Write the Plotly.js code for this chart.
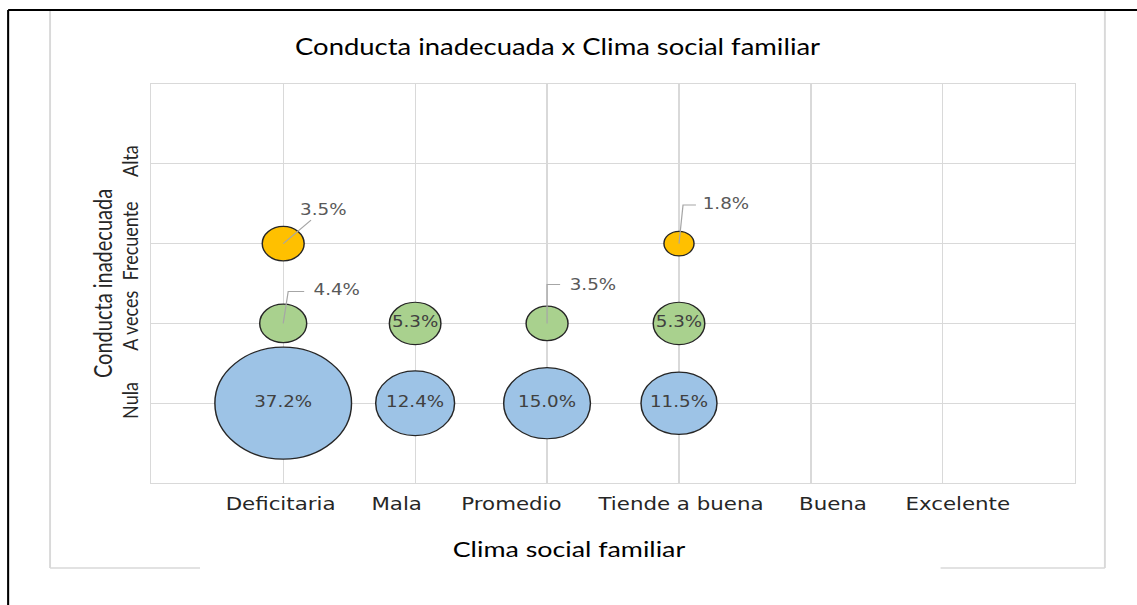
<!DOCTYPE html>
<html>
<head>
<meta charset="utf-8">
<script src="https://cdn.plot.ly/plotly-3.0.1.min.js"></script>
<style>
  html, body { margin: 0; padding: 0; background: #ffffff; overflow: hidden; }
  #wrap { width: 932px; height: 605px; transform-origin: 0 0; }
  #chart { width: 932px; height: 605px; }
</style>
</head>
<body>
<div id="wrap"><div id="chart"></div></div>
<script>
// ---- data ----
const categories = ['Deficitaria', 'Mala', 'Promedio', 'Tiende a buena', 'Buena', 'Excelente'];
const levels = ['Nula', 'A veces', 'Frecuente', 'Alta'];
const nulaValues = [37.2, 12.4, 15.0, 11.5, null, null];
const aVecesValues = [4.4, 5.3, 3.5, 5.3, null, null];
const frecuenteValues = [3.5, null, null, 1.8, null, null];
const altaValues = [null, null, null, null, null, null];

const chartTitle = 'Conducta inadecuada x Clima social familiar';
const xTitle = 'Clima social familiar';
const yTitle = 'Conducta inadecuada';

// ---- styling ----
const W = 932, H = 605;
document.getElementById('wrap').style.transform = 'scaleX(' + (1137 / W) + ')';

// the category labels in the original sit as one spaced line, not exactly under each grid line
const tickLabelNudge = [-0.02, -0.14, -0.27, 0.015, 0.167, 0.113];

const seriesDefs = [
  { name: 'Nula', values: nulaValues, color: '#9DC3E6' },
  { name: 'A veces', values: aVecesValues, color: '#A9D18E' },
  { name: 'Frecuente', values: frecuenteValues, color: '#FFC000' },
  { name: 'Alta', values: altaValues, color: '#ED7D31' }
];

const maxVal = 37.2;
const maxDiam = 112;
const sizeref = 2 * maxVal / (maxDiam * maxDiam);
const insideMin = 5;

function fmt(v) { return v.toFixed(1) + '%'; }

const traces = [];
const annotations = [];
const shapes = [];
const leaderColor = '#a6a6a6';
// label placement (pixels) for small bubbles whose labels sit outside
const outsideStyle = {
  'Frecuente|Deficitaria': { kind: 'straight', dx: 33, dy: -34 },
  'A veces|Deficitaria': { kind: 'elbow', dx: 43.5, dy: 33, bx: 4.1, by: 32, ex: 17.2 },
  'A veces|Promedio': { kind: 'elbow', dx: 37.5, dy: 38.5, bx: 0, by: 39, ex: 10.7 },
  'Frecuente|Tiende a buena': { kind: 'elbow', dx: 38, dy: 39.5, bx: 3.3, by: 38.5, ex: 13.9 }
};

seriesDefs.forEach(function (s) {
  const xs = [], ys = [], sz = [], tx = [];
  const yLevel = levels.indexOf(s.name) + 1;
  s.values.forEach(function (v, i) {
    if (v === null) return;
    xs.push(i); ys.push(yLevel); sz.push(v);
    tx.push(v >= insideMin ? fmt(v) : '');
    if (v < insideMin) {
      const st = outsideStyle[s.name + '|' + categories[i]] || { kind: 'straight', dx: 35, dy: -35 };
      const font = { family: 'DejaVu Sans', size: 15, color: '#595959' };
      if (st.kind === 'straight') {
        annotations.push({
          x: i, y: yLevel, xref: 'x', yref: 'y',
          text: fmt(v), showarrow: true, arrowhead: 0, arrowwidth: 1,
          arrowcolor: leaderColor, ax: st.dx, ay: st.dy, standoff: 0, font: font
        });
      } else {
        annotations.push({
          x: i, y: yLevel, xref: 'x', yref: 'y', xanchor: 'center', yanchor: 'middle',
          text: fmt(v), showarrow: false, xshift: st.dx, yshift: st.dy, font: font
        });
        shapes.push({
          type: 'path', xref: 'x', yref: 'y',
          xsizemode: 'pixel', ysizemode: 'pixel', xanchor: i, yanchor: yLevel,
          path: 'M0,0 L' + st.bx + ',' + st.by + ' L' + st.ex + ',' + st.by,
          line: { color: leaderColor, width: 1 }, layer: 'above'
        });
      }
    }
  });
  traces.push({
    type: 'scatter', mode: 'markers+text', name: s.name,
    x: xs, y: ys, text: tx, textposition: 'middle center',
    textfont: { family: 'DejaVu Sans', size: 15, color: '#404040' },
    marker: { size: sz, sizemode: 'area', sizeref: sizeref, color: s.color,
              opacity: 1, line: { color: '#262626', width: 1.2 } },
    cliponaxis: false, hoverinfo: 'skip'
  });
});

// axis titles
annotations.push({
  xref: 'paper', yref: 'paper', x: 0.453, y: -0.163, xanchor: 'center', yanchor: 'middle',
  text: xTitle, showarrow: false, font: { family: 'Lato', size: 22, color: '#000000' }
});
annotations.push({
  xref: 'paper', yref: 'paper', x: -0.0534, y: 0.5, xanchor: 'center', yanchor: 'middle',
  text: yTitle, textangle: -90, showarrow: false,
  font: { family: 'Lato', size: 20, color: '#262626' }
});

const gray = '#d9d9d9';
[
  // chart area border (light gray)
  { type: 'line', xref: 'paper', yref: 'paper', x0: -0.1096, x1: -0.1096, y0: 1.183, y1: -0.213, line: { color: gray, width: 1.6 } },
  { type: 'line', xref: 'paper', yref: 'paper', x0: 1.0326, x1: 1.0326, y0: 1.183, y1: -0.213, line: { color: gray, width: 1.6 } },
  { type: 'line', xref: 'paper', yref: 'paper', x0: -0.1096, x1: 0.0528, y0: -0.213, y1: -0.213, line: { color: gray, width: 1.6 } },
  { type: 'line', xref: 'paper', yref: 'paper', x0: 0.8547, x1: 1.0326, y0: -0.213, y1: -0.213, line: { color: gray, width: 1.6 } },
  // outer black frame (top + left)
  { type: 'line', xref: 'paper', yref: 'paper', x0: -0.155, x1: 1.1, y0: 1.1855, y1: 1.1855, line: { color: '#000000', width: 2 } },
  { type: 'line', xref: 'paper', yref: 'paper', x0: -0.155, x1: -0.155, y0: 1.1855, y1: -0.31, line: { color: '#000000', width: 1.7 } }
].forEach(function (sh) { shapes.push(sh); });

// an empty trace so the label axis is drawn
traces.push({ type: 'scatter', x: [], y: [], xaxis: 'x2', yaxis: 'y', hoverinfo: 'skip', showlegend: false });

const layout = {
  width: W, height: H,
  paper_bgcolor: '#ffffff', plot_bgcolor: '#ffffff',
  margin: { l: 124, r: 51, t: 84, b: 122 },
  showlegend: false,
  title: {
    text: chartTitle, xref: 'container', yref: 'container',
    x: 0.4904, y: 0.9223, xanchor: 'center', yanchor: 'middle',
    font: { family: 'Lato', size: 22.5, color: '#000000' }
  },
  xaxis: {
    range: [-1, 6], tickmode: 'array',
    tickvals: categories.map(function (c, i) { return i; }),
    showticklabels: false, automargin: false,
    showgrid: true, gridcolor: gray, gridwidth: 1,
    zeroline: false, showline: true, mirror: true, linecolor: gray, linewidth: 1.3,
    ticks: '', fixedrange: true
  },
  xaxis2: {
    overlaying: 'x', anchor: 'y', side: 'bottom',
    range: [-1, 6], tickmode: 'array',
    tickvals: categories.map(function (c, i) { return i + tickLabelNudge[i]; }), ticktext: categories,
    tickangle: 0, automargin: false,
    showgrid: false, zeroline: false, showline: false,
    ticks: '', ticklabelstandoff: 9,
    tickfont: { family: 'DejaVu Sans', size: 17.5, color: '#262626' },
    fixedrange: true
  },
  yaxis: {
    range: [0, 5], tickmode: 'array',
    tickvals: levels.map(function (l, i) { return i + 1; }), ticktext: levels,
    tickangle: -90, automargin: false,
    showgrid: true, gridcolor: gray, gridwidth: 1,
    zeroline: false, showline: true, mirror: true, linecolor: gray, linewidth: 1.3,
    ticks: '', ticklabelstandoff: 2,
    tickfont: { family: 'Lato', size: 18, color: '#262626' },
    fixedrange: true
  },
  annotations: annotations,
  shapes: shapes,
  hovermode: false
};

Plotly.newPlot('chart', traces, layout, { displayModeBar: false, staticPlot: true });
</script>
</body>
</html>
